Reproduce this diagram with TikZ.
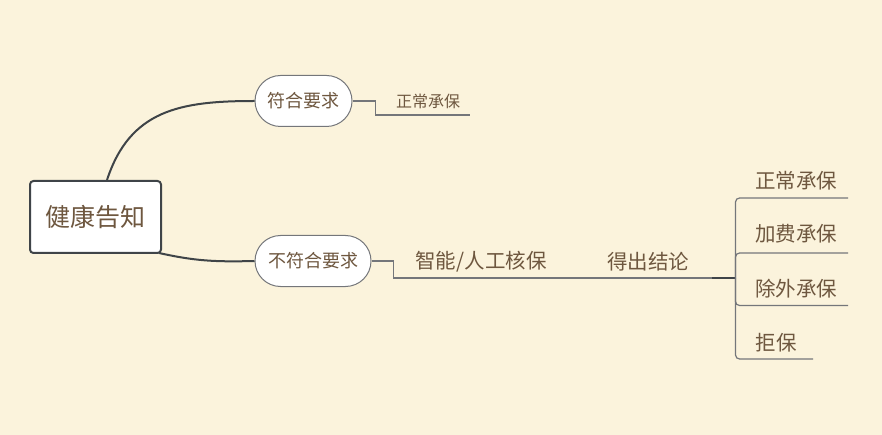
\documentclass[tikz,border=0pt]{standalone}
\usepackage{fontspec}
\setmainfont{Noto Sans CJK SC}
\definecolor{bg}{HTML}{FBF3DC}
\definecolor{txt}{HTML}{6E573F}
\definecolor{dk}{HTML}{3F4448}
\definecolor{ln}{HTML}{74767A}
\begin{document}
\begin{tikzpicture}[x=1pt,y=-1pt,
  rootbox/.style={draw=dk,line width=2pt,fill=white,rounded corners=3.5pt,minimum width=131pt,minimum height=72pt,inner sep=0pt,text=txt,font=\fontsize{25}{28}\selectfont},
  pill/.style={draw=ln,line width=1pt,fill=white,rounded corners=25.5pt,minimum height=51pt,inner sep=0pt,text=txt,font=\fontsize{18}{20}\selectfont},
  lbl/.style={inner sep=0pt,text=txt,font=\fontsize{20.5}{24}\selectfont},
  slbl/.style={inner sep=0pt,text=txt,font=\fontsize{16}{18}\selectfont},
  curve/.style={draw=dk,line width=2pt},
  thin/.style={draw=ln,line width=1.2pt},
  thick/.style={draw=dk,line width=2.5pt},
  brk/.style={draw=ln,line width=1.2pt,rounded corners=4pt}]
\fill[bg] (0,0) rectangle (882,435);
\useasboundingbox (0,0) rectangle (882,435);
% nodes
\node[rootbox] (root) at (95.5,217) {健康告知};
\node[pill,minimum width=97pt] (n1) at (303.5,101) {符合要求};
\node[pill,minimum width=116pt] (n2) at (313,261) {不符合要求};
\node[slbl] (t1) at (428,101) {正常承保};
\node[lbl] (k1) at (481,262) {智能/人工核保};
\node[lbl] (k2) at (648,262) {得出结论};
\node[lbl] (r1) at (796,181) {正常承保};
\node[lbl] (r2) at (796,234) {加费承保};
\node[lbl] (r3) at (796,289) {除外承保};
\node[lbl] (r4) at (776,343) {拒保};
% coordinates
\coordinate (t1e) at (470,115);
\coordinate (j0) at (712,278);
\coordinate (j) at (735.5,278);
\coordinate (r1e) at (848,198);
\coordinate (r2e) at (848,253);
\coordinate (r3e) at (848,305.5);
\coordinate (r4e) at (813,359);
% curves
\draw[curve] ([xshift=11.5pt]root.north) .. controls (130,110) and (180,101) .. (n1.west);
\draw[curve] ([xshift=-3pt,yshift=1pt]root.south east) .. controls (195,261) and (215,262) .. (n2.west);
% lines
\draw[thin] (n1.east) -- ++(23,0) |- (t1e);
\draw[thin] (n2.east) -- ++(22,0) |- (j0);
\draw[thick] (j0) -- (j);
\draw[brk] (j) |- (r1e);
\draw[brk] (j) |- (r2e);
\draw[brk] (j) |- (r3e);
\draw[brk] (j) |- (r4e);
\end{tikzpicture}
\end{document}
